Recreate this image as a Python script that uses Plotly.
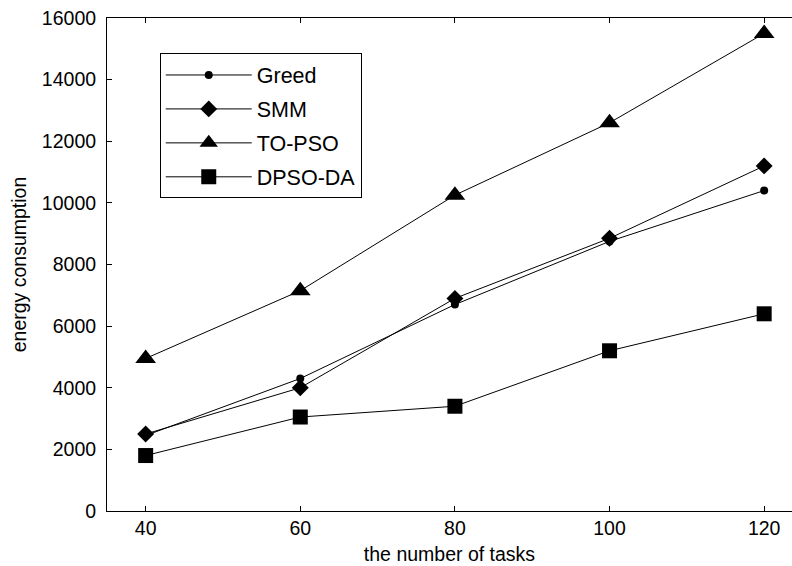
import plotly.graph_objects as go

# number of tasks on the x axis
tasks = [40, 60, 80, 100, 120]

# energy consumption for each algorithm
greed = [2450, 4300, 6700, 8750, 10400]
smm = [2500, 4000, 6900, 8850, 11200]
to_pso = [4950, 7150, 10250, 12600, 15500]
dpso_da = [1800, 3050, 3400, 5200, 6400]

series = [
    ("Greed", greed, "circle", 8),
    ("SMM", smm, "diamond", 13),
    ("TO-PSO", to_pso, "triangle-up", 18),
    ("DPSO-DA", dpso_da, "square", 15),
]

x_ticks = [40, 60, 80, 100, 120]
y_ticks = [0, 2000, 4000, 6000, 8000, 10000, 12000, 14000, 16000]

FONT = "Liberation Sans, Arial, sans-serif"
FS = 19.5

fig = go.Figure()
for i, (name, vals, sym, size) in enumerate(series):
    fig.add_trace(go.Scatter(
        x=tasks, y=vals, name=name, mode="lines+markers",
        legendgroup=f"g{i}",
        line=dict(color="black", width=1),
        marker=dict(symbol=sym, size=size, color="black",
                    line=dict(width=0)),
    ))

fig.update_layout(
    width=792, height=566,
    margin=dict(l=107, r=0, t=18, b=55),
    paper_bgcolor="white", plot_bgcolor="white",
    font=dict(family=FONT, size=FS, color="black"),
    showlegend=True,
    legend=dict(
        x=0.077, y=0.928, xanchor="left", yanchor="top",
        bordercolor="black", borderwidth=1, bgcolor="white",
        font=dict(family=FONT, size=21.5, color="black"),
        tracegroupgap=3, itemwidth=86,
    ),
)

fig.update_xaxes(
    range=[35, 123.6], tickvals=x_ticks,
    showline=True, linecolor="black", linewidth=1, mirror="ticks",
    ticks="inside", ticklen=5, tickcolor="black",
    showgrid=False, zeroline=False,
    title=dict(text="the number of tasks", standoff=8,
               font=dict(family=FONT, size=FS)),
    tickfont=dict(family=FONT, size=FS),
)
fig.update_yaxes(
    range=[0, 16000], tickvals=y_ticks, tickformat="d",
    showline=True, linecolor="black", linewidth=1, mirror=False,
    ticks="inside", ticklen=5, tickcolor="black",
    showgrid=False, zeroline=False,
    title=dict(text="energy consumption", standoff=10,
               font=dict(family=FONT, size=FS)),
    tickfont=dict(family=FONT, size=FS),
    ticklabelstandoff=6,
)

fig.write_html("out.html")
